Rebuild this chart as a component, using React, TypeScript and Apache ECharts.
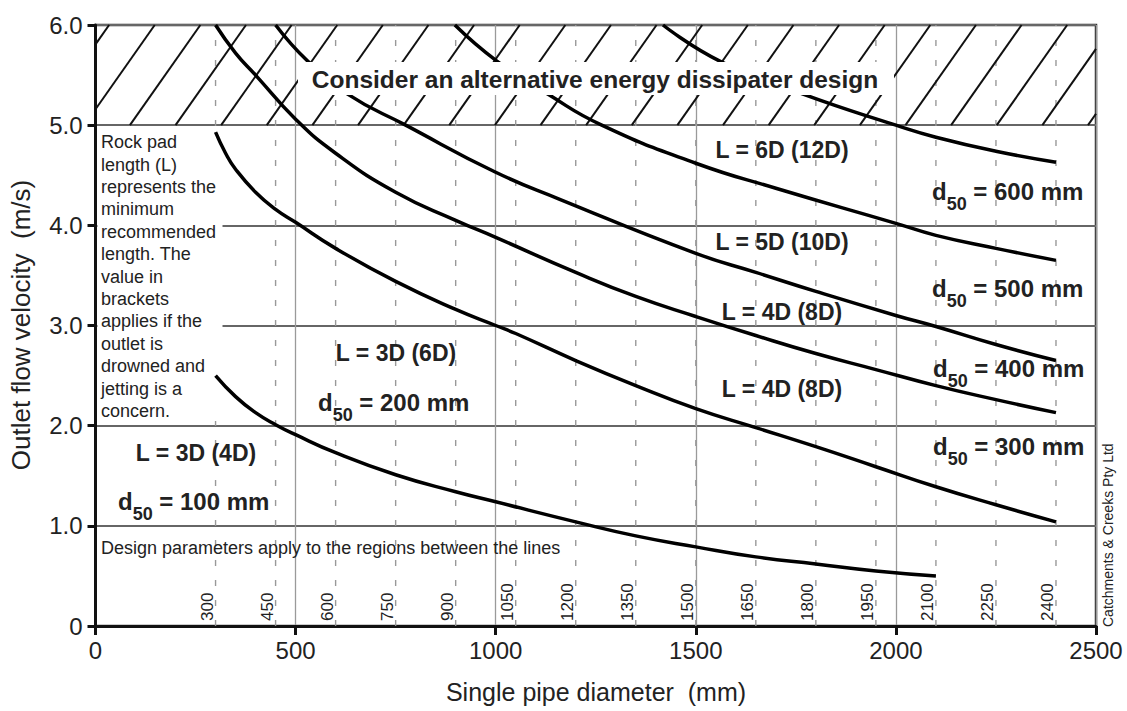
import React, { useEffect, useRef } from 'react';
import * as echarts from 'echarts';

const FONT = '"Liberation Sans", Arial, Helvetica, sans-serif';

// Pipe sizes marked by dashed guide lines (mm)
const PIPE_SIZES = [300, 450, 600, 750, 900, 1050, 1200, 1350, 1500, 1650, 1800, 1950, 2100, 2250, 2400];

// Boundary curves: [single pipe diameter (mm), outlet flow velocity (m/s)]
const CURVE_100_200: [number, number][] = [
  [300, 2.5], [350, 2.29], [400, 2.13], [450, 2.01], [500, 1.91], [600, 1.73], [750, 1.51],
  [900, 1.34], [1000, 1.24], [1200, 1.04], [1350, 0.9], [1500, 0.79], [1650, 0.69],
  [1800, 0.62], [1950, 0.55], [2100, 0.5],
];
const CURVE_200_300: [number, number][] = [
  [300, 4.93], [325, 4.72], [350, 4.56], [400, 4.33], [450, 4.16], [500, 4.03], [600, 3.77],
  [750, 3.44], [900, 3.16], [1000, 3.0], [1050, 2.92], [1200, 2.65], [1350, 2.4], [1500, 2.17],
  [1650, 1.98], [1800, 1.79], [1950, 1.59], [2100, 1.39], [2250, 1.21], [2400, 1.04],
];
const CURVE_300_400: [number, number][] = [
  [300, 6.0], [350, 5.72], [400, 5.5], [500, 5.06], [600, 4.72], [750, 4.33], [900, 4.05],
  [1000, 3.88], [1200, 3.53], [1350, 3.29], [1500, 3.09], [1650, 2.9], [1800, 2.72],
  [1950, 2.56], [2100, 2.4], [2250, 2.26], [2400, 2.13],
];
const CURVE_400_500: [number, number][] = [
  [450, 6.0], [530, 5.64], [630, 5.31], [775, 5.0], [1000, 4.53], [1160, 4.26], [1500, 3.72],
  [1650, 3.53], [1800, 3.34], [2000, 3.1], [2100, 2.99], [2250, 2.81], [2400, 2.65],
];
const CURVE_500_600: [number, number][] = [
  [898, 6.0], [1003, 5.64], [1130, 5.31], [1265, 5.0], [1500, 4.62], [1700, 4.37],
  [2000, 4.02], [2100, 3.9], [2250, 3.77], [2400, 3.65],
];
const CURVE_600_UP: [number, number][] = [
  [1418, 6.0], [1560, 5.64], [1768, 5.31], [2000, 5.0], [2100, 4.88], [2250, 4.74], [2400, 4.63],
];

const CURVES = [CURVE_100_200, CURVE_200_300, CURVE_300_400, CURVE_400_500, CURVE_500_600, CURVE_600_UP];

// Hatched "no go" band (m/s)
const HATCH_BAND = [5, 6];

const ROCK_PAD_NOTE = [
  'Rock pad', 'length (L)', 'represents the', 'minimum', 'recommended', 'length. The',
  'value in', 'brackets', 'applies if the', 'outlet is', 'drowned and', 'jetting is a', 'concern.',
];

const L_LABELS = [
  { text: 'L = 6D (12D)', x: 782, y: 150 },
  { text: 'L = 5D (10D)', x: 782, y: 242 },
  { text: 'L = 4D (8D)', x: 782, y: 312 },
  { text: 'L = 4D (8D)', x: 782, y: 389 },
  { text: 'L = 3D (6D)', x: 396, y: 353 },
  { text: 'L = 3D (4D)', x: 196, y: 453 },
];

const D50_LABELS = [
  { size: '600', x: 932, y: 193 },
  { size: '500', x: 932, y: 290 },
  { size: '400', x: 933, y: 370 },
  { size: '300', x: 933, y: 448 },
  { size: '200', x: 318, y: 404 },
  { size: '100', x: 118, y: 503 },
];

export default function App() {
  const ref = useRef<HTMLDivElement>(null);

  useEffect(() => {
    if (!ref.current) return;
    const chart = echarts.init(ref.current, undefined, { renderer: 'svg' });

    const hatchRun = 176; // mm of horizontal run per 1 m/s of hatch line
    const hatchStep = 114;
    const hatchFirst = -142;

    const lineSeries = CURVES.map((c, i) => ({
      type: 'line',
      name: 'boundary' + i,
      data: c,
      showSymbol: false,
      smooth: 0.5,
      silent: true,
      z: 3,
      lineStyle: { color: '#000', width: 3.5, cap: 'butt' },
    }));

    const d50Graphic = D50_LABELS.map((l) => ({
      type: 'text',
      z: 5,
      x: l.x,
      y: l.y - 14,
      style: {
        text: `{m|d}{s|50}{m| = ${l.size} mm}`,
        align: 'left',
        verticalAlign: 'top',
        rich: {
          m: { fontSize: 24, fontWeight: 'bold', fontFamily: FONT, fill: '#222', color: '#222', lineHeight: 28, verticalAlign: 'top' },
          s: { fontSize: 18, fontWeight: 'bold', fontFamily: FONT, fill: '#222', color: '#222', lineHeight: 18, padding: [16, 0, 0, 0], verticalAlign: 'top' },
        },
      },
    }));

    const lGraphic = L_LABELS.map((l) => ({
      type: 'text',
      z: 5,
      x: l.x,
      y: l.y,
      style: {
        text: l.text,
        fontSize: 23,
        fontWeight: 'bold',
        fontFamily: FONT,
        fill: '#222',
        align: 'center',
        verticalAlign: 'middle',
        textAlign: 'center',
        textVerticalAlign: 'middle',
      },
    }));

    const option: any = {
      animation: false,
      backgroundColor: '#fff',
      grid: {
        left: 95.5, right: 31, top: 25, bottom: 85,
        show: true, borderColor: '#333', borderWidth: 2.5,
      },
      xAxis: {
        type: 'value', min: 0, max: 2500, interval: 500,
        axisLine: { show: true, onZero: false, lineStyle: { color: '#111', width: 3 } },
        axisTick: { show: true, length: 9, lineStyle: { color: '#111', width: 3 } },
        axisLabel: { fontSize: 24, color: '#222', margin: 12, fontFamily: FONT, formatter: (v: number) => String(v) },
        splitLine: { show: true, lineStyle: { color: '#9a9a9a', width: 1.3 } },
      },
      yAxis: {
        type: 'value', min: 0, max: 6, interval: 1,
        axisLine: { show: true, lineStyle: { color: '#111', width: 3 } },
        axisTick: { show: true, length: 8, lineStyle: { color: '#111', width: 3 } },
        axisLabel: {
          fontSize: 24, color: '#222', margin: 13, fontFamily: FONT,
          formatter: (v: number) => (v === 0 ? '0' : v.toFixed(1)),
        },
        splitLine: { show: true, lineStyle: { color: '#666', width: 2 } },
      },
      series: [
        {
          type: 'custom',
          name: 'pipe sizes',
          silent: true,
          z: 1,
          data: PIPE_SIZES.map((v) => [v, 0]),
          renderItem: (params: any, api: any) => {
            const x = api.value(0);
            const p0 = api.coord([x, 0]);
            const p1 = api.coord([x, 6]);
            return {
              type: 'group',
              children: [
                {
                  type: 'line',
                  shape: { x1: p0[0], y1: p0[1], x2: p1[0], y2: p1[1] },
                  style: { stroke: '#999', lineWidth: 1.4, lineDash: [6, 14] },
                },
                {
                  type: 'text',
                  x: p0[0] - 8,
                  y: p0[1] - 5,
                  rotation: Math.PI / 2,
                  style: {
                    text: String(x),
                    fontSize: 17,
                    fontFamily: FONT,
                    fill: '#222',
                    align: 'left',
                    verticalAlign: 'middle',
                    textAlign: 'left',
                    textVerticalAlign: 'middle',
                  },
                },
              ],
            };
          },
        },
        {
          type: 'custom',
          name: 'hatch',
          silent: true,
          z: 1,
          data: [[0, HATCH_BAND[0]]],
          renderItem: (params: any, api: any) => {
            const lo = HATCH_BAND[0];
            const hi = HATCH_BAND[1];
            const children: any[] = [];
            for (let b = hatchFirst; b < 2500; b += hatchStep) {
              const t0 = Math.max(0, -b / hatchRun);
              const t1 = Math.min(1, (2500 - b) / hatchRun);
              if (t1 <= t0) continue;
              const a = api.coord([b + hatchRun * t0, lo + (hi - lo) * t0]);
              const c = api.coord([b + hatchRun * t1, lo + (hi - lo) * t1]);
              children.push({
                type: 'line',
                shape: { x1: a[0], y1: a[1], x2: c[0], y2: c[1] },
                style: { stroke: '#111', lineWidth: 2 },
              });
            }
            return { type: 'group', children };
          },
        },
        ...lineSeries,
      ],
      graphic: [
        { type: 'rect', z: 2, shape: { x: 97.5, y: 128, width: 125, height: 293 }, style: { fill: '#fff' } },
        {
          type: 'text', z: 2, x: 101, y: 131,
          style: {
            text: ROCK_PAD_NOTE.join('\n'), fontSize: 18, lineHeight: 22.4, fontFamily: FONT, fill: '#222',
            align: 'left', verticalAlign: 'top', textAlign: 'left', textVerticalAlign: 'top',
          },
        },
        { type: 'rect', z: 10, shape: { x: 298, y: 62, width: 596, height: 33 }, style: { fill: '#fff' } },
        {
          type: 'text', z: 11, x: 595, y: 79,
          style: {
            text: 'Consider an alternative energy dissipater design', fontSize: 24.5, fontWeight: 'bold',
            fontFamily: FONT, fill: '#222', align: 'center', verticalAlign: 'middle',
            textAlign: 'center', textVerticalAlign: 'middle',
          },
        },
        {
          type: 'text', z: 5, x: 101, y: 548,
          style: {
            text: 'Design parameters apply to the regions between the lines', fontSize: 18,
            fontFamily: FONT, fill: '#222', align: 'left', verticalAlign: 'middle',
            textAlign: 'left', textVerticalAlign: 'middle',
          },
        },
        {
          type: 'text', z: 5, x: 1108, y: 627, rotation: Math.PI / 2,
          style: {
            text: 'Catchments & Creeks Pty Ltd', fontSize: 14, fontFamily: FONT, fill: '#222',
            align: 'left', verticalAlign: 'middle', textAlign: 'left', textVerticalAlign: 'middle',
          },
        },
        {
          type: 'text', z: 5, x: 21, y: 325, rotation: Math.PI / 2,
          style: {
            text: 'Outlet flow velocity  (m/s)', fontSize: 26, fontFamily: FONT, fill: '#222',
            align: 'center', verticalAlign: 'middle', textAlign: 'center', textVerticalAlign: 'middle',
          },
        },
        {
          type: 'text', z: 5, x: 596, y: 692,
          style: {
            text: 'Single pipe diameter  (mm)', fontSize: 25, fontFamily: FONT, fill: '#222',
            align: 'center', verticalAlign: 'middle', textAlign: 'center', textVerticalAlign: 'middle',
          },
        },
        ...lGraphic,
        ...d50Graphic,
      ],
    };

    chart.setOption(option);
    return () => chart.dispose();
  }, []);

  return (
    <div
      ref={ref}
      style={{ position: 'fixed', left: 0, top: 0, width: 1127, height: 711, background: '#fff' }}
    />
  );
}
